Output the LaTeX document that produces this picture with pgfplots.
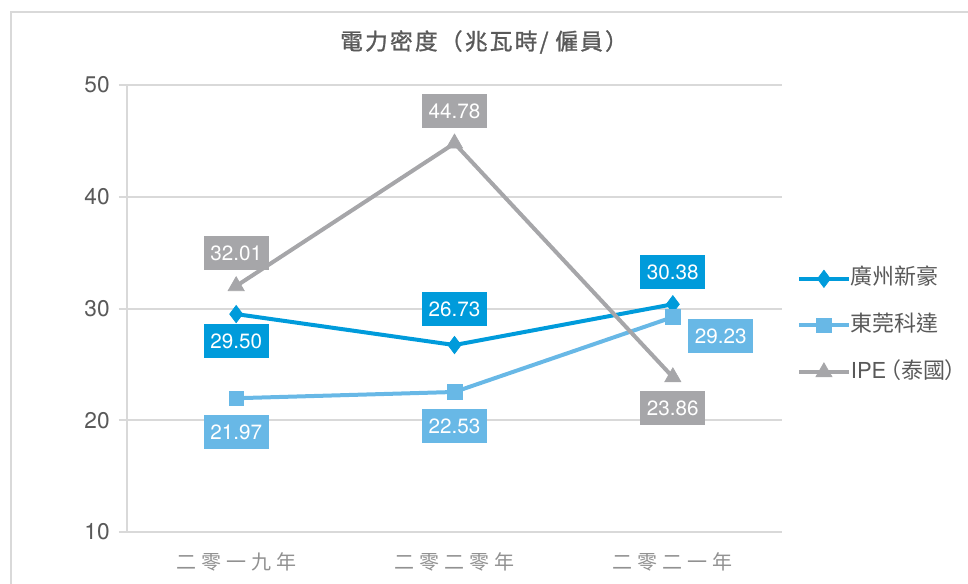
\documentclass[border=0pt]{standalone}
\usepackage{fontspec}
\setmainfont{TeX Gyre Heros}
\newfontfamily\cjk{Noto Sans CJK TC}[RawFeature=+palt]
\newfontfamily\cjktitle{Noto Sans CJK TC}[LetterSpace=10, FakeBold=1.2]
\newfontfamily\cjkwide{Noto Sans CJK TC}[LetterSpace=25]
\usepackage{pgfplots}
\usepackage{pgfplotstable}
\pgfplotsset{compat=1.18}

\definecolor{sDark}{RGB}{0,155,219}
\definecolor{sLight}{RGB}{104,184,230}
\definecolor{sGray}{RGB}{166,166,169}
\definecolor{gridc}{RGB}{217,217,217}
\definecolor{txt}{RGB}{89,89,89}
\definecolor{catc}{RGB}{145,145,145}

% x y, and label offset (px) from the point
\pgfplotstableread{
x y dx dy
0 29.50 0 -27
1 26.73 0 36
2 30.38 0 32
}\guangzhou
\pgfplotstableread{
x y dx dy
0 21.97 0 -34
1 22.53 0 -34
2 29.23 48 -19
}\dongguan
\pgfplotstableread{
x y dx dy
0 32.01 0 33
1 44.78 0 32
2 23.86 0 -31
}\ipe

\pgfplotsset{
  lbl/.style={
    forget plot, draw=none, mark=none,
    visualization depends on={\thisrow{dx}\as\dx},
    visualization depends on={\thisrow{dy}\as\dy},
    nodes near coords={\pgfmathprintnumber[fixed,fixed zerofill,precision=2]{\pgfplotspointmeta}},
    every node near coord/.append style={anchor=center, xshift=\dx*0.75pt, yshift=\dy*0.75pt,
      fill=#1, text=white, minimum width=48.75pt, minimum height=25.5pt, inner sep=0pt,
      font=\fontsize{15.5}{16}\selectfont},
  },
}

\begin{document}
\begin{tikzpicture}[x=0.75pt,y=0.75pt]

\draw[gridc, line width=1.2pt] (11,-2) -- (11,571) -- (975,571);

\node[font=\cjktitle\fontsize{17}{17}\selectfont, text=txt] at (484,541) {電力密度（兆瓦時/\hspace{5pt}僱員）};

\begin{axis}[
  at={(95.25pt,38.25pt)}, anchor=south west,
  scale only axis, width=491.25pt, height=335.25pt,
  xmin=-0.5, xmax=2.5, ymin=10, ymax=50,
  ytick={10,20,30,40,50},
  xtick={0,1,2},
  xticklabels={二零一九年,二零二零年,二零二一年},
  axis x line*=bottom, axis y line*=left,
  axis line style={gridc, line width=1.5pt, -},
  ymajorgrids, grid style={gridc, line width=1.5pt},
  xtick style={draw=none},
  ytick style={gridc, line width=1.5pt},
  tick align=outside, major tick length=6pt,
  /pgf/number format/assume math mode=true,
  yticklabel style={font=\fontsize{17}{17}\selectfont, text=txt, xshift=-3.5pt},
  xticklabel style={font=\cjkwide\fontsize{15}{15}\selectfont, text=catc, yshift=-6pt},
  legend style={at={(1,0.462)}, anchor=west, xshift=8pt, draw=none, fill=none,
    font=\cjk\fontsize{16.5}{16.5}\selectfont, text=txt, row sep=20pt,
    nodes={inner sep=0pt, text height=12pt, text depth=3pt},
    /tikz/every even column/.append style={column sep=6.5pt}},
  legend cell align=left,
  legend image code/.code={\draw[mark repeat=2,mark phase=2] plot coordinates {(0pt,0pt) (18.75pt,0pt) (37.5pt,0pt)};},
  clip=false,
]
\addplot[sDark, line width=3pt, mark=diamond*, mark size=6.5pt,
  mark options={solid, fill=sDark, line width=0.5pt}] table[x=x,y=y] {\guangzhou};
\addlegendentry{廣州新豪}
\addplot[sLight, line width=3pt, mark=square*, mark size=5.5pt,
  mark options={solid, fill=sLight, line width=0.5pt}] table[x=x,y=y] {\dongguan};
\addlegendentry{東莞科達}
\addplot[sGray, line width=3pt, mark=triangle*, mark size=7pt,
  mark options={solid, fill=sGray, line width=0.5pt}] table[x=x,y=y] {\ipe};
\addlegendentry{{\rmfamily IPE}\,（泰國）}

\addplot[lbl=sDark] table[x=x,y=y] {\guangzhou};
\addplot[lbl=sLight] table[x=x,y=y] {\dongguan};
\addplot[lbl=sGray] table[x=x,y=y] {\ipe};
\end{axis}

\pgfresetboundingbox
\useasboundingbox (0,0) rectangle (968,583);
\end{tikzpicture}
\end{document}
